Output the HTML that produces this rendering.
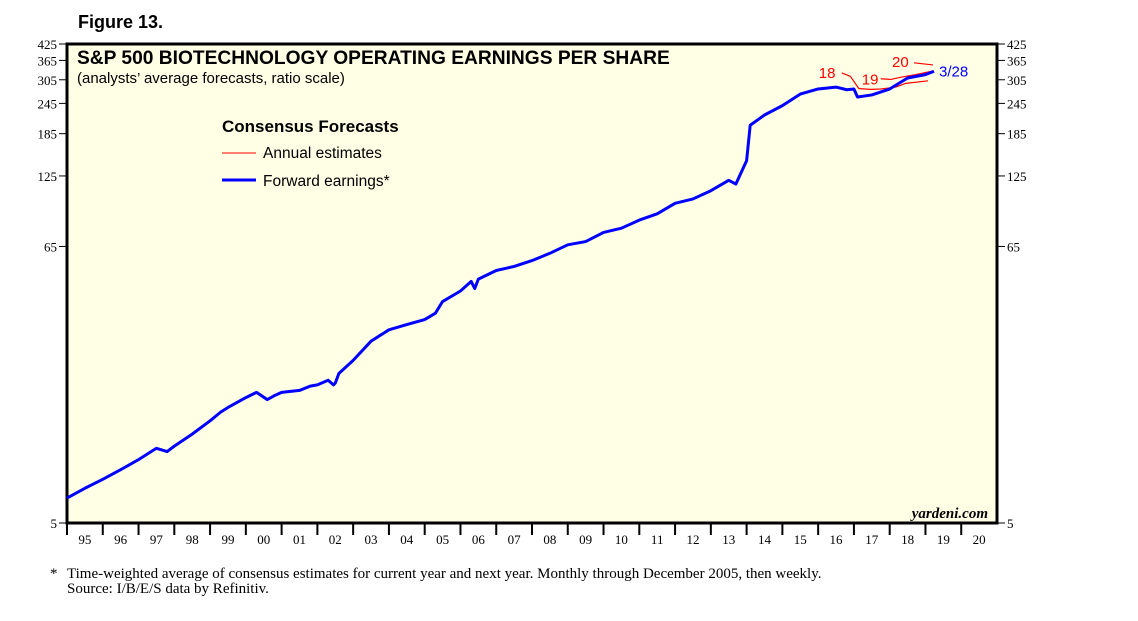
<!DOCTYPE html>
<html><head><meta charset="utf-8"><style>
body{margin:0;background:#fff;width:1138px;height:621px;overflow:hidden}
svg{display:block}
.s{font-family:"Liberation Sans",sans-serif}
.r{font-family:"Liberation Serif",serif}
</style></head><body>
<svg id="c" width="1138" height="621">
<text class="s" x="78" y="28" font-size="18" font-weight="bold">Figure 13.</text>
<rect x="67" y="44" width="930" height="479" fill="#ffffe6" stroke="#000" stroke-width="3"/>
<text class="s" x="77" y="64" font-size="19.2" font-weight="bold">S&amp;P 500 BIOTECHNOLOGY OPERATING EARNINGS PER SHARE</text>
<text class="s" x="77" y="83" font-size="15">(analysts’ average forecasts, ratio scale)</text>
<g>
<text class="s" x="222" y="132" font-size="17" font-weight="bold">Consensus Forecasts</text>
<line x1="222" y1="153" x2="256" y2="153" stroke="#f00" stroke-width="1"/>
<text class="s" x="263" y="158" font-size="15.5">Annual estimates</text>
<line x1="222" y1="180" x2="256" y2="180" stroke="#00f" stroke-width="3"/>
<text class="s" x="263" y="186" font-size="15.5">Forward earnings*</text>
</g>
<text x="988" y="518" font-size="15" font-style="italic" font-weight="bold" text-anchor="end" class="r">yardeni.com</text>
<text class="r" x="50" y="578" font-size="15">*</text>
<text class="r" x="67" y="578" font-size="15">Time-weighted average of consensus estimates for current year and next year. Monthly through December 2005, then weekly.</text>
<text class="r" x="67" y="593" font-size="15">Source: I/B/E/S data by Refinitiv.</text>
<g id="axes"></g><g id="series"></g>
</svg>
<script>
const yTicks=[5,65,125,185,245,305,365,425];
const years=["95","96","97","98","99","00","01","02","03","04","05","06","07","08","09","10","11","12","13","14","15","16","17","18","19","20"];
const fwdT=[1995.0,1995.5,1996.0,1996.5,1997.0,1997.5,1997.8,1998.0,1998.5,1999.0,1999.3,1999.5,2000.0,2000.3,2000.6,2000.8,2001.0,2001.5,2001.8,2002.0,2002.3,2002.45,2002.5,2002.6,2003.0,2003.5,2004.0,2004.5,2005.0,2005.3,2005.5,2006.0,2006.3,2006.4,2006.5,2007.0,2007.5,2008.0,2008.5,2009.0,2009.5,2010.0,2010.5,2011.0,2011.5,2012.0,2012.5,2013.0,2013.5,2013.6,2013.7,2014.0,2014.1,2014.5,2015.0,2015.5,2016.0,2016.5,2016.8,2017.0,2017.1,2017.5,2018.0,2018.5,2019.0,2019.24];
const fwdV=[6.3,6.9,7.5,8.2,9.0,10.0,9.7,10.2,11.4,12.9,14.0,14.6,16.0,16.8,15.7,16.3,16.8,17.1,17.8,18.0,18.8,18.0,18.3,20.0,22.6,27,30,31.5,33,35,39,43,47,44,48,52,54,57,61,66,68,74,77,83,88,97,101,109,120,118,116,144,200,220,240,267,280,285,278,280,260,265,280,310,320,330];
const e18T=[2016.66,2016.9,2017.14,2017.47,2017.75,2018.17,2018.45,2019.07];
const e18V=[325,315,281,279,280,285,295,302];
const e19T=[2017.75,2018.03,2018.3,2018.73,2019.21];
const e19V=[308,306,312,320,331];
const e20T=[2018.68,2019.21];
const e20V=[357,350];
const L=67,R=997,T=44,B=523,NS="http://www.w3.org/2000/svg";
const x=t=>L+(t-1995)*(R-L)/26;
const y=v=>B-(Math.log(v/5))*(B-T)/Math.log(425/5);
const ax=document.getElementById('axes'),se=document.getElementById('series');
function mk(tag,at,p){const e=document.createElementNS(NS,tag);for(const k in at)e.setAttribute(k,at[k]);p.appendChild(e);return e;}
yTicks.forEach(v=>{
 const a=mk('line',{x1:L-8,x2:L,y1:y(v),y2:y(v),stroke:'#000'},ax);
 
 
 const b=mk('line',{x1:R,x2:R+8,y1:y(v),y2:y(v),stroke:'#000'},ax);
 
 
 const t1=mk('text',{x:L-10,y:y(v)+5,'text-anchor':'end','font-size':13,class:'r'},ax);t1.textContent=v;
 
 
 const t2=mk('text',{x:R+10,y:y(v)+5,'font-size':13,class:'r'},ax);t2.textContent=v;
 
 
});
years.forEach((s,i)=>{
 const t=mk('line',{x1:x(1995+i),x2:x(1995+i),y1:B,y2:B+12,stroke:'#000','stroke-width':2},ax);
 
 
 const l=mk('text',{x:x(1995.5+i),y:B+21,'text-anchor':'middle','font-size':13,class:'r'},ax);l.textContent=s;
 
 
});
function line(T,V,col,w,name){
 const p=mk('polyline',{points:T.map((t,i)=>x(t)+','+y(V[i])).join(' '),fill:'none',stroke:col,'stroke-width':w,'stroke-linejoin':'round'},se);
 
 
}
line(e18T,e18V,'#f00',1.2,'estimate-2018-line');
line(e19T,e19V,'#f00',1.2,'estimate-2019-line');
line(e20T,e20V,'#f00',1.2,'estimate-2020-line');
line(fwdT,fwdV,'#00f',3,'forward-earnings-line');
function lab(tx,xx,yy,col,name){const t=mk('text',{x:xx,y:yy,'font-size':15,fill:col,class:'s'},se);t.textContent=tx;
 
 }
lab('18',x(e18T[0])-23,y(e18V[0])+5,'#f00','label-18');
lab('19',x(e19T[0])-19,y(e19V[0])+6,'#f00','label-19');
lab('20',x(e20T[0])-22,y(e20V[0])+4,'#f00','label-20');
lab('3/28',x(2019.24)+5,y(330)+5,'#00f','label-3-28');
</script>
</body></html>
